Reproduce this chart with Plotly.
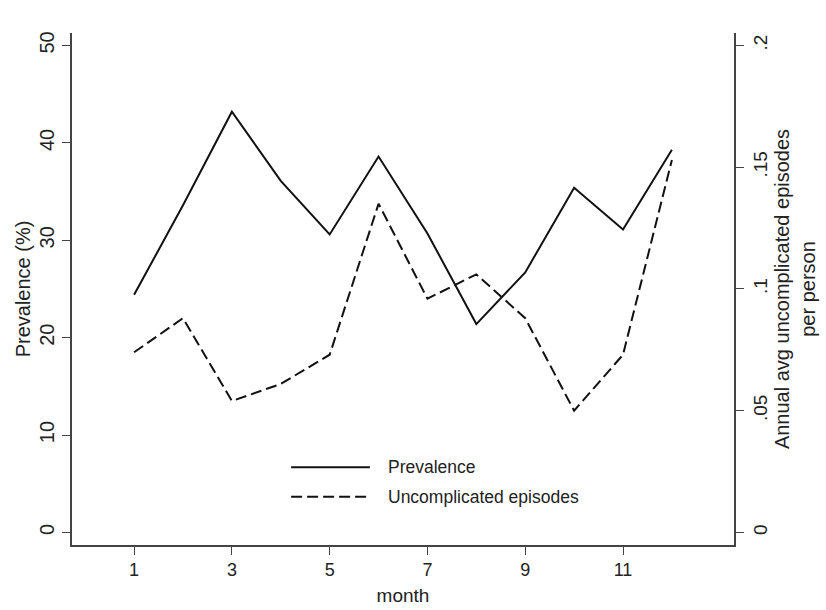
import plotly.graph_objects as go

months = list(range(1, 13))
prevalence = [24.4, 33.6, 43.2, 36.1, 30.6, 38.6, 30.7, 21.4, 26.7, 35.4, 31.1, 39.3]
episodes = [0.074, 0.088, 0.054, 0.061, 0.073, 0.135, 0.096, 0.106, 0.088, 0.050, 0.073, 0.153]

x_ticks = [1, 3, 5, 7, 9, 11]
y_ticks = [0, 10, 20, 30, 40, 50]
y2_ticks = [0, 0.05, 0.1, 0.15, 0.2]
y2_labels = ["0", ".05", ".1", ".15", ".2"]

legend_names = ["Prevalence", "Uncomplicated episodes"]

FONT = "Liberation Sans, Arial, sans-serif"
TXT = "#222222"
AX = "#444444"

fig = go.Figure()
fig.add_trace(go.Scatter(x=months, y=prevalence, mode="lines", name=legend_names[0],
                         line=dict(color="#111111", width=2), showlegend=False))
fig.add_trace(go.Scatter(x=months, y=episodes, mode="lines", name=legend_names[1], yaxis="y2",
                         line=dict(color="#111111", width=2, dash="11px,5px"), showlegend=False))

# manual legend (long line samples like the original)
leg_y = [0.152, 0.094]
leg_dash = ["solid", "11px,5px"]
for name, yy, d in zip(legend_names, leg_y, leg_dash):
    fig.add_shape(type="line", xref="paper", yref="paper", x0=0.331, x1=0.45, y0=yy, y1=yy,
                  line=dict(color="#111111", width=2, dash=d))
    fig.add_annotation(xref="paper", yref="paper", x=0.474, y=yy, text=name, showarrow=False,
                       xanchor="left", yanchor="middle", font=dict(family=FONT, size=17.5, color=TXT))

fig.update_layout(
    width=826, height=610,
    margin=dict(l=72, r=92, t=33, b=65, autoexpand=False),
    paper_bgcolor="white", plot_bgcolor="white",
    font=dict(family=FONT, size=18, color=TXT),
    xaxis=dict(range=[-0.27, 13.27], tickvals=x_ticks, ticks="outside", ticklen=8, tickcolor=AX,
               showline=True, linecolor=AX, linewidth=1.5, showgrid=False, zeroline=False,
               automargin=False,
               title=dict(text="month", font=dict(size=19), standoff=9),
               tickfont=dict(size=18)),
    yaxis=dict(range=[-1.28, 51.28], tickvals=y_ticks, ticks="outside", ticklen=8, tickcolor=AX,
               tickangle=-90, showline=True, linecolor=AX, linewidth=1.5, showgrid=False,
               zeroline=False, tickfont=dict(size=20), automargin=False,
               title=dict(text="Prevalence (%)", font=dict(size=20), standoff=0)),
    yaxis2=dict(range=[-0.00513, 0.2051], tickvals=y2_ticks, ticktext=y2_labels, overlaying="y",
                side="right", ticks="outside", ticklen=8, tickcolor=AX, tickangle=-90,
                showline=True, linecolor=AX, linewidth=1.5, showgrid=False, zeroline=False,
                tickfont=dict(size=19), automargin=False,
                title=dict(text="Annual avg uncomplicated episodes<br>per person",
                           font=dict(size=20), standoff=0)),
)

fig.write_html("out.html")
